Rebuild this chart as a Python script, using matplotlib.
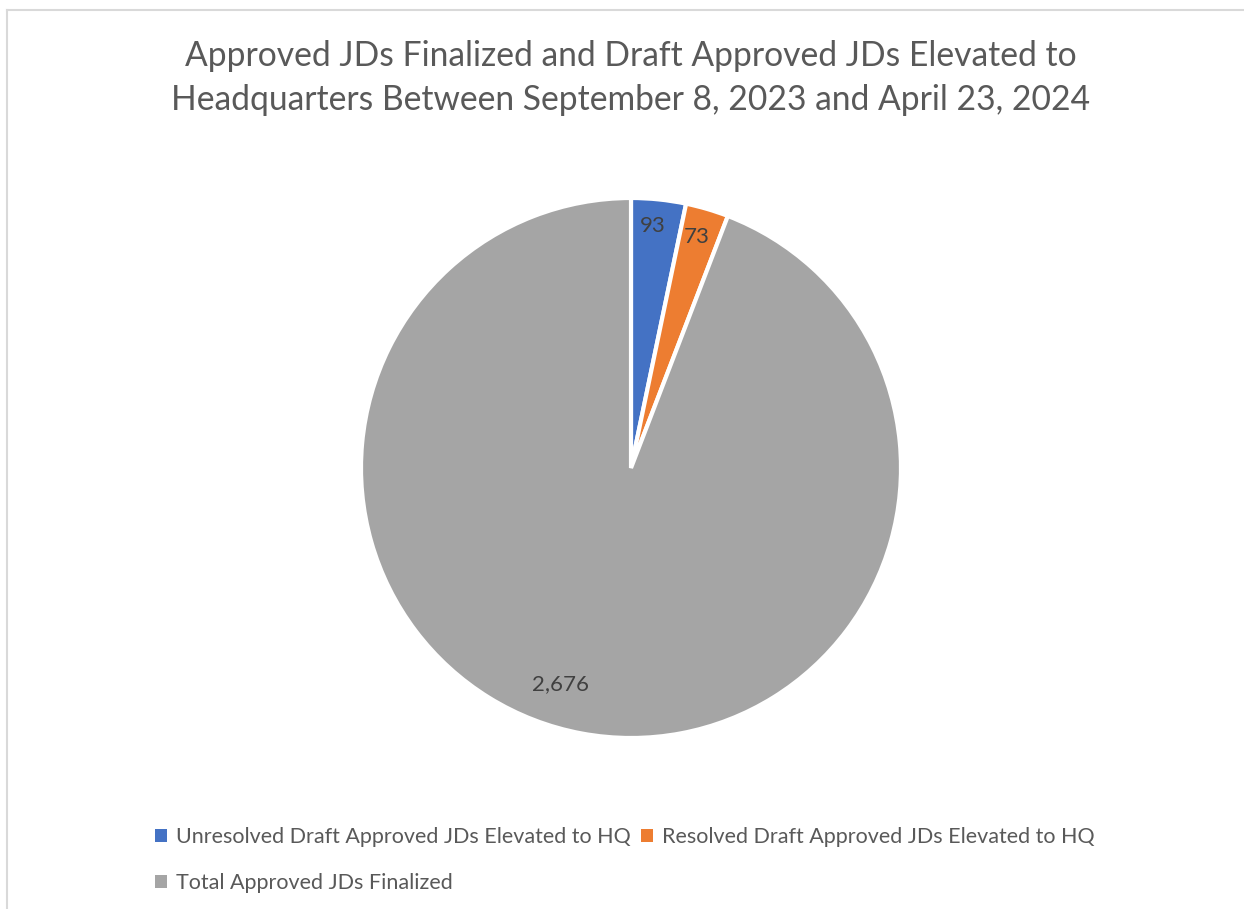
import numpy as np
import matplotlib.pyplot as plt
from matplotlib.lines import Line2D
from matplotlib.patches import Patch

# Data
categories = [
    "Unresolved Draft Approved JDs Elevated to HQ",
    "Resolved Draft Approved JDs Elevated to HQ",
    "Total Approved JDs Finalized",
]
values = [93, 73, 2676]
colors = ["#4472C4", "#ED7D31", "#A5A5A5"]
title = ("Approved JDs Finalized and Draft Approved JDs Elevated to\n"
         "Headquarters Between September 8, 2023 and April 23, 2024")

plt.rcParams["font.family"] = ["Lato", "DejaVu Sans"]

W, H = 1244, 909
fig = plt.figure(figsize=(W / 100, H / 100), dpi=100)

# Pie axes: centre (631, 468), radius 270 px
cx, cy, r = 631, 468, 270
ax = fig.add_axes([(cx - r) / W, (H - cy - r) / H, 2 * r / W, 2 * r / H])
wedges, _ = ax.pie(values, colors=colors, startangle=90, counterclock=False,
                   wedgeprops=dict(edgecolor="white", linewidth=3))
ax.set_xlim(-1, 1)
ax.set_ylim(-1, 1)
ax.set_aspect("equal")
ax.axis("off")

# Data labels (Excel best-fit placement)
label_dist = [0.9, 0.89, 0.84]
label_shift = [0.7, 0.5, -7.5]
for w, v, d, s in zip(wedges, values, label_dist, label_shift):
    ang = np.deg2rad((w.theta1 + w.theta2) / 2 + s)
    ax.text(d * np.cos(ang), d * np.sin(ang), f"{v:,}", ha="center", va="center",
            fontsize=16, color="#404040")

# Title
fig.text(cx / W, 1 - 78 / H, title, ha="center", va="center", fontsize=24.2,
         color="#595959", linespacing=1.45)

# Legend
handles = [Patch(facecolor=c, edgecolor="none") for c in colors]
order = [0, 2, 1]
fig.legend([handles[i] for i in order], [categories[i] for i in order],
           loc="upper left", bbox_to_anchor=(136 / W, 1 - 808 / H), ncol=2,
           frameon=False, fontsize=15.5, labelcolor="#595959",
           handlelength=0.55, handleheight=0.55, handletextpad=0.4,
           columnspacing=0.5, labelspacing=1.2)

# Chart border (top and left edges visible)
fig.add_artist(Line2D([7 / W, 1], [1 - 10 / H, 1 - 10 / H], color="#D9D9D9", lw=1.5))
fig.add_artist(Line2D([7 / W, 7 / W], [0, 1 - 10 / H], color="#D9D9D9", lw=1.5))

fig.savefig("out.png", dpi=100, facecolor="white")
plt.close(fig)
